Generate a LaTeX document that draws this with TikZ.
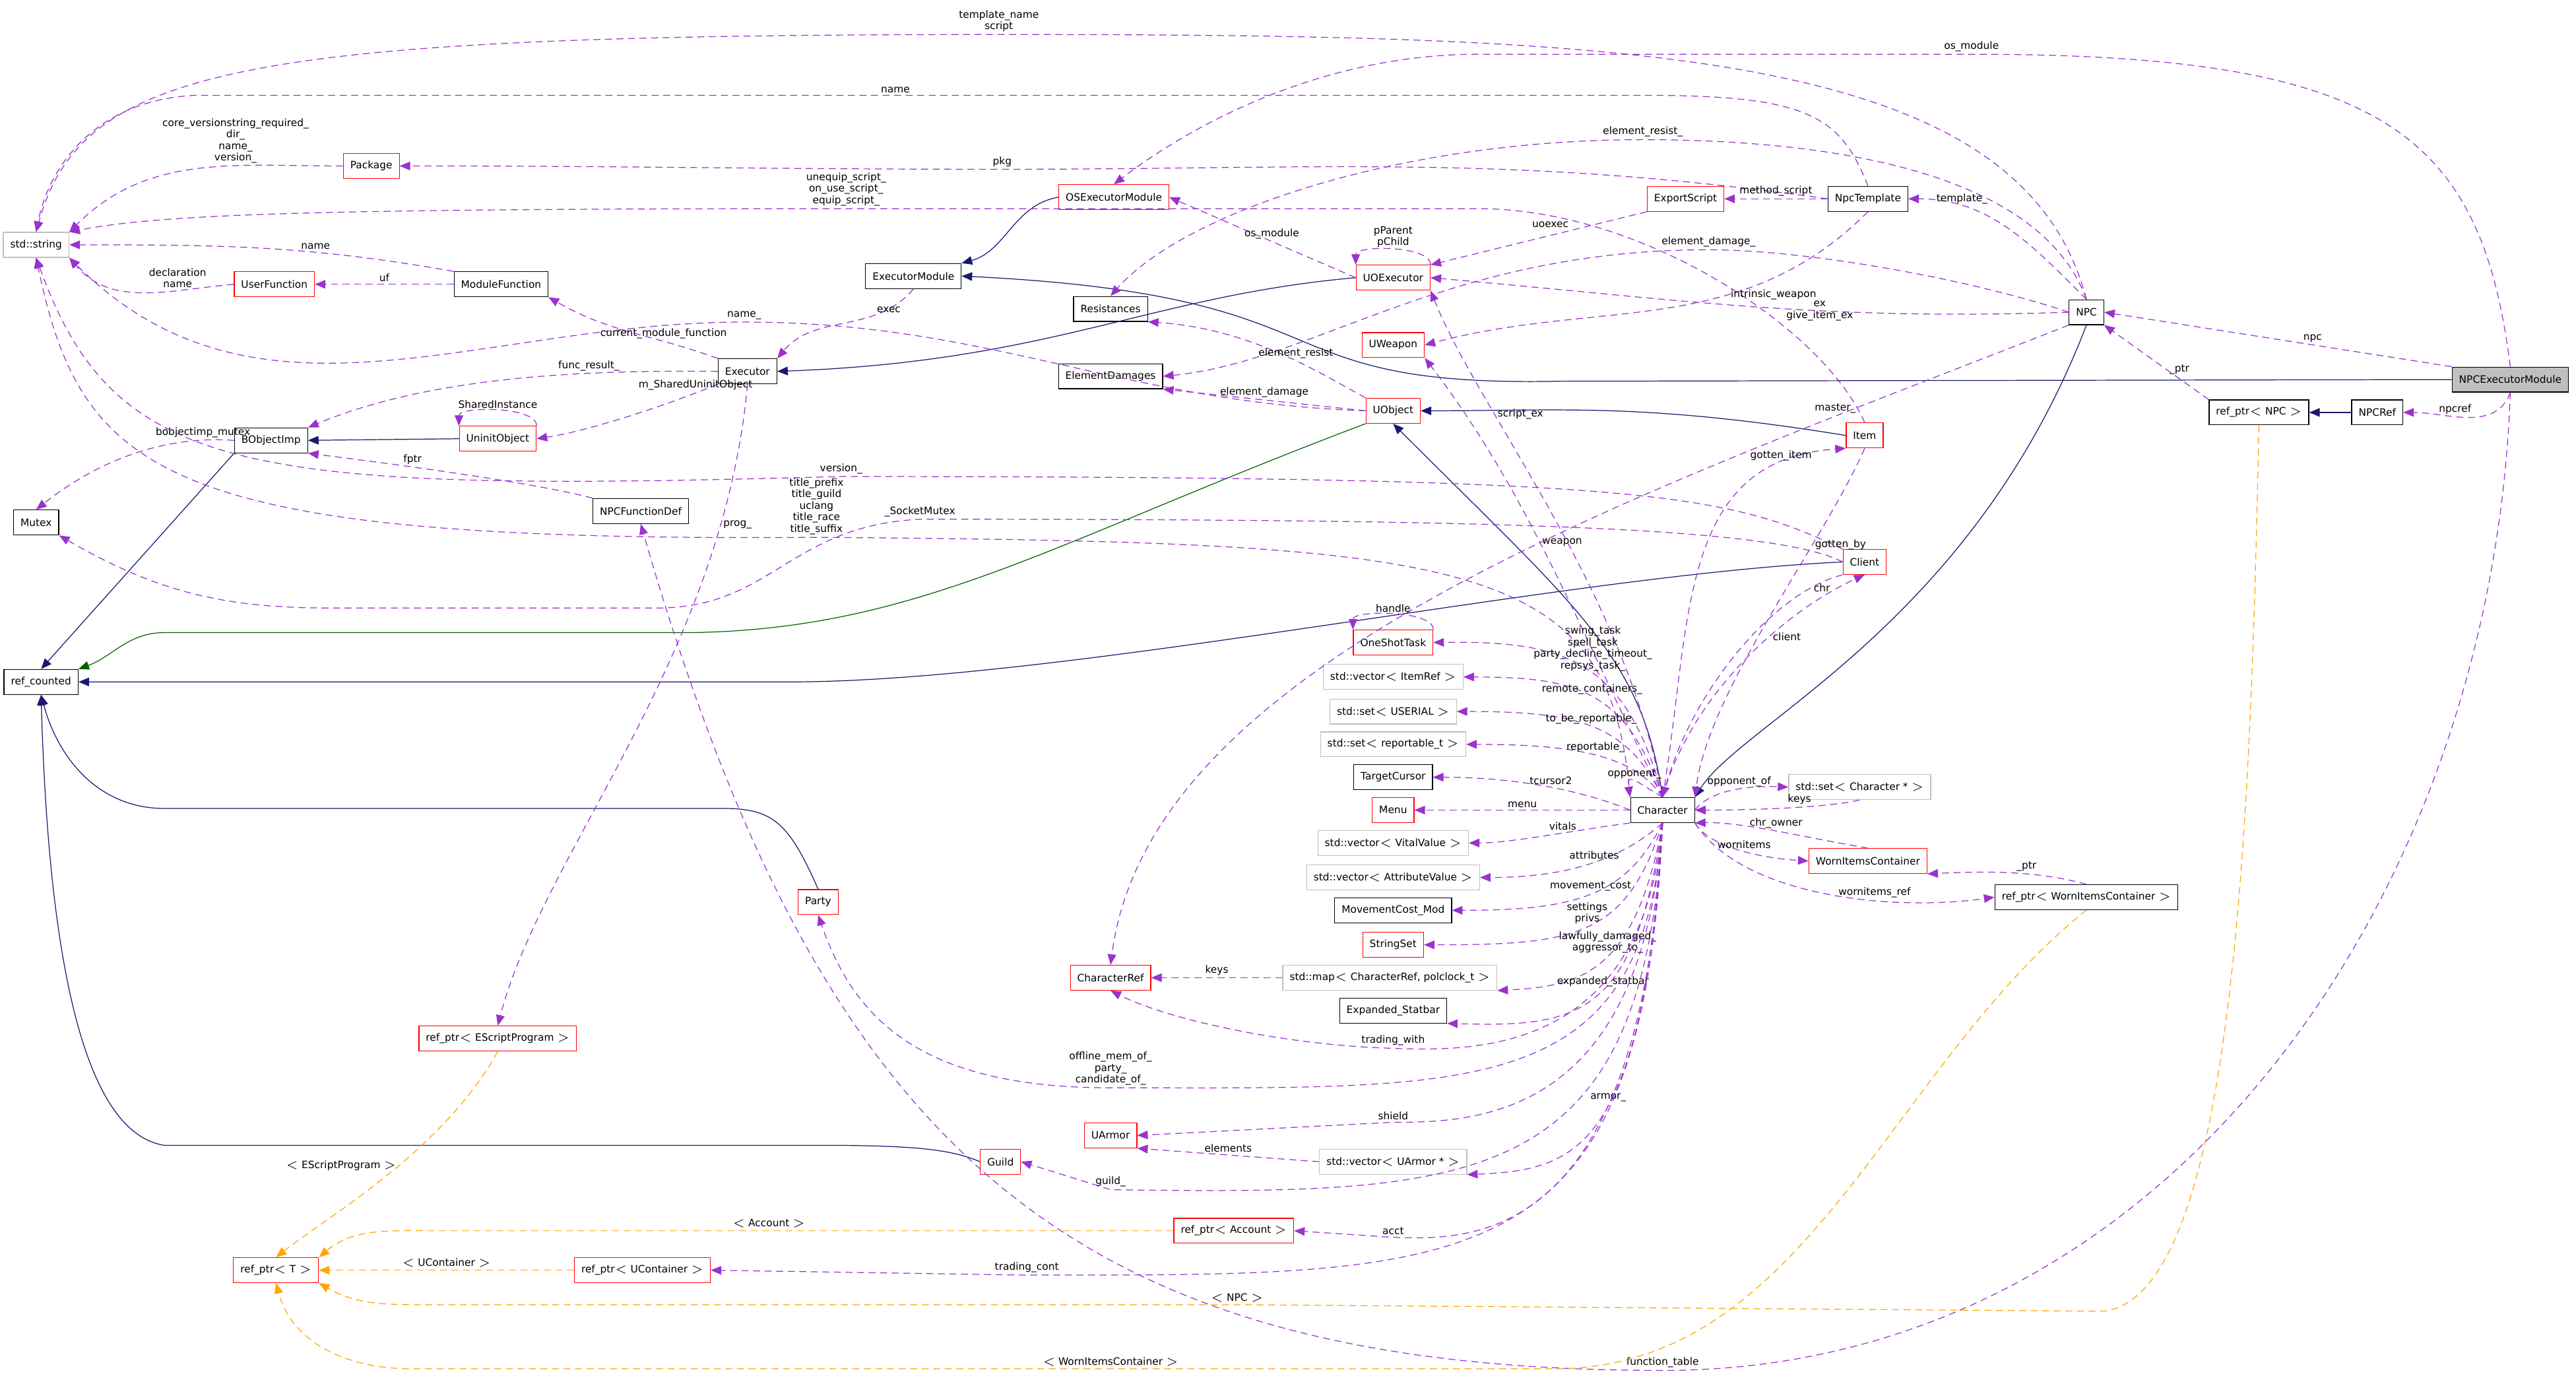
\documentclass[tikz,border=0pt]{standalone}
\usepackage{fontspec}
\setmainfont{DejaVu Sans}
\usepackage{tikz}
\usetikzlibrary{arrows.meta, positioning, calc}
\definecolor{usecol}{RGB}{154, 50, 205}
\definecolor{inhcol}{RGB}{25, 25, 112}
\definecolor{protcol}{RGB}{0, 100, 0}
\definecolor{tplcol}{RGB}{255, 165, 0}
\definecolor{boxgray}{RGB}{191, 191, 191}
\tikzstyle{cls} = [rectangle, draw=black, fill=white, text=black, minimum height=0.38cm, inner xsep=3pt, inner ysep=1pt, line width=0.35pt, font=\fontsize{4.4}{5}\selectfont]
\tikzstyle{undoc} = [cls, draw=red]
\tikzstyle{ext} = [cls, draw=boxgray]
\tikzstyle{focus} = [cls, fill=boxgray, draw=black]
\tikzstyle{lbl} = [font=\fontsize{4.4}{5}\selectfont, text=black, align=center, inner sep=1pt]
\tikzstyle{use} = [densely dashed, draw=usecol, line width=0.35pt, -{Triangle[length=1.6mm, width=1.3mm]}, color=usecol]
\tikzstyle{inh} = [draw=inhcol, line width=0.35pt, -{Triangle[length=1.6mm, width=1.3mm]}, color=inhcol]
\tikzstyle{prot} = [inh, draw=protcol, color=protcol]
\tikzstyle{tpl} = [densely dashed, draw=tplcol, line width=0.35pt, -{Triangle[length=1.6mm, width=1.3mm]}, color=tplcol]

\begin{document}
\begin{tikzpicture}[x=0.025cm, y=-0.025cm]
    \useasboundingbox[fill=white] (0,0) rectangle (1568,838.6);
    % Classes, left part
    \node[ext] (str) at (22,149) {std::string};
    \node[undoc] (package) at (226,101) {Package};
    \node[undoc] (userFunc) at (167,173) {UserFunction};
    \node[cls] (modFunc) at (305,173) {ModuleFunction};
    \node[cls] (execMod) at (556,168) {ExecutorModule};
    \node[undoc] (osExecMod) at (678,120) {OSExecutorModule};
    \node[cls] (executor) at (455,226) {Executor};
    \node[cls] (bobjImp) at (165,268) {BObjectImp};
    \node[undoc] (uninit) at (303,267) {UninitObject};
    \node[cls] (npcFuncDef) at (390,311) {NPCFunctionDef};
    \node[cls] (mutex) at (22,318) {Mutex};
    \node[cls] (refCounted) at (25,415) {ref\_counted};
    \node[undoc] (party) at (498,549) {Party};
    \node[undoc] (refEScript) at (303,632) {ref\_ptr$<$ EScriptProgram $>$};
    \node[undoc] (guild) at (609,707) {Guild};
    \node[undoc] (refT) at (168,773) {ref\_ptr$<$ T $>$};
    \node[undoc] (refUCont) at (391,773) {ref\_ptr$<$ UContainer $>$};
    \node[undoc] (refAccount) at (751,749) {ref\_ptr$<$ Account $>$};
    % Classes, middle part
    \node[cls] (resist) at (676,188) {Resistances};
    \node[cls] (elemDmg) at (676,229) {ElementDamages};
    \node[undoc] (uoExec) at (848,169) {UOExecutor};
    \node[undoc] (uWeapon) at (848,210) {UWeapon};
    \node[undoc] (uObject) at (848,250) {UObject};
    \node[undoc] (oneShot) at (848,391) {OneShotTask};
    \node[ext] (vecItemRef) at (848,412) {std::vector$<$ ItemRef $>$};
    \node[ext] (setSerial) at (848,433) {std::set$<$ USERIAL $>$};
    \node[ext] (setReport) at (848,453) {std::set$<$ reportable\_t $>$};
    \node[cls] (tCursor) at (848,473) {TargetCursor};
    \node[undoc] (menu) at (848,493) {Menu};
    \node[ext] (vecVital) at (848,513) {std::vector$<$ VitalValue $>$};
    \node[ext] (vecAttr) at (848,534) {std::vector$<$ AttributeValue $>$};
    \node[cls] (moveCost) at (848,554) {MovementCost\_Mod};
    \node[undoc] (strSet) at (848,575) {StringSet};
    \node[ext] (mapChar) at (846,595) {std::map$<$ CharacterRef, polclock\_t $>$};
    \node[undoc] (charRef) at (676,595) {CharacterRef};
    \node[cls] (statbar) at (848,615) {Expanded\_Statbar};
    \node[undoc] (uArmor) at (676,691) {UArmor};
    \node[ext] (vecArmor) at (848,707) {std::vector$<$ UArmor * $>$};
    % Classes, right part
    \node[undoc] (exportScript) at (1026,121) {ExportScript};
    \node[cls] (npcTpl) at (1137,121) {NpcTemplate};
    \node[cls] (npc) at (1270,190) {NPC};
    \node[undoc] (item) at (1135,265) {Item};
    \node[undoc] (client) at (1135,342) {Client};
    \node[cls] (character) at (1012,493) {Character};
    \node[ext] (setChar) at (1132,479) {std::set$<$ Character * $>$};
    \node[undoc] (worn) at (1137,524) {WornItemsContainer};
    \node[cls] (refWorn) at (1270,546) {ref\_ptr$<$ WornItemsContainer $>$};
    \node[cls] (refNpc) at (1375,251) {ref\_ptr$<$ NPC $>$};
    \node[cls] (npcRef) at (1447,251) {NPCRef};
    \node[focus] (npcExecMod) at (1528,231) {NPCExecutorModule};

    % Inheritance
    \draw[inh] (osExecMod.west) to[out=190,in=15] (execMod.north east);
    \draw[inh] (npcExecMod.west) -- (950,232) .. controls (760,236) and (830,180) .. (execMod.east);
    \draw[inh] (uoExec.west) .. controls (700,180) and (640,220) .. (executor.east);
    \draw[inh] (uninit.west) -- (bobjImp.east);
    \draw[inh] (bobjImp.south west) -- (refCounted.north);
    \draw[prot] (uObject.south west) .. controls (640,330) and (560,383) .. (420,385) -- (100,385) to[out=180,in=20] (refCounted.north east);
    \draw[inh] (item.west) .. controls (1000,245) and (950,250) .. (uObject.east);
    \draw[inh] (character.north) .. controls (1000,400) and (960,370) .. (uObject.south);
    \draw[inh] (npc.south) .. controls (1200,380) and (1060,440) .. (character.north east);
    \draw[inh] (client.west) .. controls (950,350) and (650,415) .. (480,415) -- (refCounted.east);
    \draw[inh] (party.north) .. controls (480,500) and (470,492) .. (440,492) -- (100,492) to[out=180,in=-75] (refCounted.south);
    \draw[inh] (guild.west) .. controls (580,700) and (560,697) .. (500,697) -- (100,697) .. controls (55,690) and (30,600) .. (refCounted.south);
    \draw[inh] (npcRef.west) -- (refNpc.east);

    % Members, top arcs
    \draw[use] (npc.north) .. controls (1230,30) and (1000,21) .. (608,21) node[lbl,above]{template\_name\\script} .. controls (150,21) and (50,40) .. (str.north);
    \draw[use] (npcExecMod.north) .. controls (1510,80) and (1450,33) .. (1200,33) node[lbl,above]{os\_module} -- (900,33) .. controls (800,33) and (720,80) .. (osExecMod.north);
    \draw[use] (npcTpl.north) .. controls (1120,70) and (1100,58) .. (1000,58) -- (545,58) node[lbl,above]{name} -- (120,58) .. controls (60,60) and (30,100) .. (str.north);
    \draw[use] (npcTpl.west) to[out=172,in=0] (610,103) node[lbl,above]{pkg} to[out=180,in=0] (package.east);
    \draw[use] (npc.north) .. controls (1240,100) and (1100,85) .. (1000,85) node[lbl,above]{element\_resist\_} .. controls (850,85) and (720,130) .. (resist.north);
    \draw[use] (item.north) .. controls (1110,200) and (1000,127) .. (900,127) -- (515,127) node[lbl,above]{unequip\_script\_\\on\_use\_script\_\\equip\_script\_} .. controls (200,127) and (100,130) .. (str.north east);
    \draw[use] (npcTpl.west) -- node[lbl,above]{method\_script} (exportScript.east);
    \draw[use] (npc.north) to[out=135,in=0] node[lbl,above,pos=0.75]{template\_} (npcTpl.east);
    \draw[use] (exportScript.south west) -- node[lbl,above left,pos=0.35]{uoexec} (uoExec.north east);
    \draw[use] (uoExec.west) -- node[lbl,above,pos=0.45]{os\_module} (osExecMod.east);
    \draw[use] (uoExec.north east) .. controls +(0,-12) and +(0,-12) .. node[lbl,above]{pParent\\pChild} (uoExec.north west);
    \draw[use] (npc.west) .. controls (1200,170) and (1100,152) .. (1040,152) node[lbl,above]{element\_damage\_} .. controls (880,152) and (800,220) .. (elemDmg.east);
    \draw[use] (npcTpl.south) to[out=225,in=15] node[lbl,right,pos=0.35]{intrinsic\_weapon} (uWeapon.east);
    \draw[use] (npc.west) to[out=182,in=-5] node[lbl,pos=0.38]{ex\\give\_item\_ex} (uoExec.east);
    \draw[use] (uObject.west) to[out=178,in=0] (453,196) node[lbl,above]{name\_} to[out=180,in=-45] (str.south east);

    % Members, left part
    \draw[use] (package.west) to[out=180,in=45] node[lbl,above,pos=0.35]{core\_versionstring\_required\_\\dir\_\\name\_\\version\_} (str.north east);
    \draw[use] (modFunc.north west) to[out=170,in=0] node[lbl,above,pos=0.35]{name} (str.east);
    \draw[use] (modFunc.west) -- node[lbl,above]{uf} (userFunc.east);
    \draw[use] (userFunc.west) to[out=185,in=-50] node[lbl,above,pos=0.3]{declaration\\name} (str.south east);
    \draw[use] (executor.north west) to[out=160,in=-30] node[lbl,above,pos=0.3]{current\_module\_function} (modFunc.south east);
    \draw[use] (execMod.south) to[out=-130,in=50] node[lbl,above right,pos=0.3]{exec} (executor.north east);
    \draw[use] (executor.west) .. controls (350,225) and (260,230) .. node[lbl,above,pos=0.3]{func\_result\_} (bobjImp.north east);
    \draw[use] (executor.south west) .. controls (410,245) and (360,262) .. node[lbl,above,pos=0.15]{m\_SharedUninitObject} (uninit.east);
    \draw[use] (uninit.north east) .. controls +(0,-12) and +(0,-12) .. node[lbl,above]{SharedInstance} (uninit.north west);
    \draw[use] (bobjImp.west) .. controls (100,265) and (60,280) .. node[lbl,above,pos=0.15]{bobjectimp\_mutex} (mutex.north);
    \draw[use] (npcFuncDef.north west) .. controls (330,295) and (260,285) .. node[lbl,above,pos=0.7]{fptr} (bobjImp.south east);
    \draw[use] (client.north west) .. controls (1050,300) and (1000,290) .. (512,290) node[lbl,above]{version\_} .. controls (150,300) and (70,290) .. (str.south);
    \draw[use] (character.north west) .. controls (980,340) and (900,330) .. (497,327) node[lbl,above]{title\_prefix\\title\_guild\\uclang\\title\_race\\title\_suffix} .. controls (100,330) and (50,290) .. (str.south);
    \draw[use] (client.west) .. controls (1080,320) and (900,316) .. (560,316) node[lbl,above]{\_SocketMutex} .. controls (480,320) and (470,370) .. (400,370) -- (200,370) to[out=180,in=-30] (mutex.south east);
    \draw[use] (executor.south) .. controls (440,400) and (330,520) .. node[lbl,pos=0.18,right]{prog\_} (refEScript.north);
    \draw[use] (npcExecMod.south) to[out=-92,in=0] (1012,834) node[lbl,above]{function\_table} .. controls (650,834) and (500,700) .. (npcFuncDef.south);

    % Members, UObject and Character
    \draw[use] (uObject.north west) .. controls (800,225) and (760,200) .. node[lbl,above,pos=0.4]{element\_resist} (resist.south east);
    \draw[use] (uObject.west) -- node[lbl,above]{element\_damage} (elemDmg.south east);
    \draw[use] (character.north) .. controls (960,380) and (930,300) .. node[lbl,right,pos=0.55]{weapon} (uWeapon.south east);
    \draw[use] (character.north) .. controls (990,360) and (900,250) .. node[lbl,right,pos=0.7]{script\_ex} (uoExec.south east);
    \draw[use] (npc.south west) .. controls (1000,300) and (700,400) .. node[lbl,pos=0.18,above]{master\_} (charRef.north);
    \draw[use] (character.north) .. controls (1030,380) and (1020,280) .. node[lbl,above,pos=0.85]{gotten\_item} (item.south west);
    \draw[use] (item.south) .. controls (1110,330) and (1040,420) .. node[lbl,right,pos=0.3]{gotten\_by} (character.north east);
    \draw[use] (character.north) .. controls (1030,420) and (1090,370) .. node[lbl,right,pos=0.6]{client} (client.south);
    \draw[use] (client.south west) .. controls (1080,360) and (1030,420) .. node[lbl,right,pos=0.15]{chr} (character.north);
    \draw[use] (character.north) .. controls (990,400) and (950,390) .. node[lbl,above,pos=0.45]{swing\_task\\spell\_task\\party\_decline\_timeout\_\\repsys\_task\_} (oneShot.east);
    \draw[use] (oneShot.north east) .. controls +(0,-12) and +(0,-12) .. node[lbl,above]{handle} (oneShot.north west);
    \draw[use] (character.north) .. controls (990,420) and (960,412) .. node[lbl,above,pos=0.5]{remote\_containers\_} (vecItemRef.east);
    \draw[use] (character.north) .. controls (990,440) and (960,433) .. node[lbl,above,pos=0.5]{to\_be\_reportable\_} (setSerial.east);
    \draw[use] (character.north) .. controls (995,460) and (960,453) .. node[lbl,above,pos=0.5]{reportable\_} (setReport.east);
    \draw[use] (character.west) .. controls (960,480) and (920,473) .. node[lbl,above,pos=0.45]{tcursor2} (tCursor.east);
    \draw[use] (character.west) -- node[lbl,above]{menu} (menu.east);
    \draw[use] (character.south west) .. controls (960,505) and (920,513) .. node[lbl,above,pos=0.4]{vitals} (vecVital.east);
    \draw[use] (character.south) .. controls (990,520) and (960,534) .. node[lbl,above,pos=0.5]{attributes} (vecAttr.east);
    \draw[use] (character.south) .. controls (990,545) and (960,554) .. node[lbl,above,pos=0.5]{movement\_cost} (moveCost.east);
    \draw[use] (character.south) .. controls (990,570) and (960,575) .. node[lbl,above,pos=0.5]{settings\\privs} (strSet.east);
    \draw[use] (character.south) .. controls (995,595) and (960,600) .. node[lbl,above,pos=0.45]{lawfully\_damaged\_\\aggressor\_to\_} (mapChar.south east);
    \draw[use] (character.south) .. controls (995,620) and (960,625) .. node[lbl,above,pos=0.45]{expanded\_statbar} (statbar.south east);
    \draw[use] (mapChar.west) -- node[lbl,above]{keys} (charRef.east);
    \draw[use] (character.south) .. controls (1000,640) and (900,640) .. (848,638) node[lbl,above]{trading\_with} .. controls (780,636) and (710,620) .. (charRef.south);
    \draw[use] (character.south) .. controls (1000,670) and (900,662) .. (676,662) node[lbl,above]{offline\_mem\_of\_\\party\_\\candidate\_of\_} .. controls (560,662) and (520,620) .. (party.south);
    \draw[use] (character.south) .. controls (1000,680) and (900,683) .. (848,683) node[lbl,above]{shield} -- (uArmor.east);
    \draw[use] (vecArmor.west) -- node[lbl,above]{elements} (uArmor.south east);
    \draw[use] (character.south) .. controls (1000,700) and (960,712) .. node[lbl,above,pos=0.45]{armor\_} (vecArmor.south east);
    \draw[use] (character.south) .. controls (1000,725) and (900,727) .. (676,724) node[lbl,above]{guild\_} -- (guild.east);
    \draw[use] (character.south) .. controls (1000,755) and (900,755) .. (848,753) node[lbl,above]{acct} -- (refAccount.east);
    \draw[use] (character.south) .. controls (1000,780) and (900,776) .. (625,776) node[lbl,above]{trading\_cont} -- (refUCont.east);
    \draw[use] (character.north) .. controls (995,475) and (990,470) .. node[lbl,above]{opponent\_} (character.north west);
    \draw[use] (character.east) .. controls (1040,482) and (1060,478) .. node[lbl,above,pos=0.6]{opponent\_of} (setChar.west);
    \draw[use] (setChar.south) .. controls (1110,492) and (1060,493) .. node[lbl,above,pos=0.4]{keys} (character.east);
    \draw[use] (worn.north) .. controls (1100,510) and (1060,500) .. node[lbl,above,pos=0.5]{chr\_owner} (character.south east);
    \draw[use] (character.south east) .. controls (1040,515) and (1070,522) .. node[lbl,above,pos=0.55]{wornitems} (worn.west);
    \draw[use] (character.south east) .. controls (1060,545) and (1150,555) .. node[lbl,above,pos=0.65]{wornitems\_ref} (refWorn.west);
    \draw[use] (refWorn.north) .. controls (1240,530) and (1210,530) .. node[lbl,above,pos=0.4]{\_ptr} (worn.south east);

    % Members, NPC side
    \draw[use] (npcExecMod.north west) -- node[lbl,above,pos=0.4]{npc} (npc.east);
    \draw[use] (refNpc.north west) -- node[lbl,right,pos=0.4]{\_ptr} (npc.south east);
    \draw[use] (npcExecMod.south) to[out=-110,in=0] node[lbl,above,pos=0.6]{npcref} (npcRef.east);

    % Template instances
    \draw[tpl] (refEScript.south) .. controls (270,700) and (200,740) .. node[lbl,pos=0.45,left]{$<$ EScriptProgram $>$} (refT.north);
    \draw[tpl] (refAccount.west) -- (468,749) node[lbl,above]{$<$ Account $>$} -- (260,749) to[out=180,in=40] (refT.north east);
    \draw[tpl] (refUCont.west) -- node[lbl,above]{$<$ UContainer $>$} (refT.east);
    \draw[tpl] (refNpc.south) .. controls (1370,500) and (1360,790) .. (1280,798) -- (753,794) node[lbl,above]{$<$ NPC $>$} -- (260,794) to[out=180,in=-30] (refT.south east);
    \draw[tpl] (refWorn.south) .. controls (1150,650) and (1100,830) .. (950,833) -- (676,833) node[lbl,above]{$<$ WornItemsContainer $>$} -- (250,833) to[out=180,in=-75] (refT.south);
\end{tikzpicture}
\end{document}
